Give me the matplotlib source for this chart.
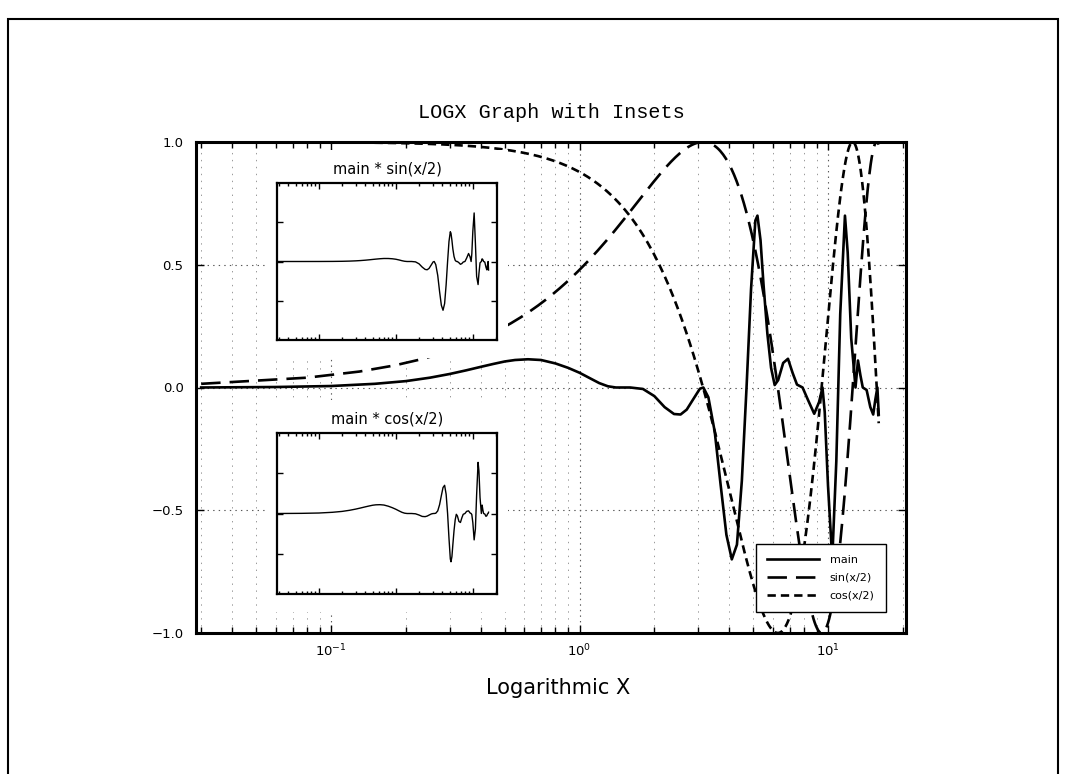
import numpy as np
import matplotlib
matplotlib.use("Agg")
import matplotlib.pyplot as plt
from matplotlib.patches import Rectangle
from matplotlib.ticker import LogLocator, MultipleLocator, NullFormatter

# --- data -------------------------------------------------------------------
main_x = [0.03, 0.06, 0.10, 0.15, 0.20, 0.25, 0.30, 0.35, 0.40, 0.45, 0.50,
          0.55, 0.62, 0.70, 0.80, 0.90, 1.00, 1.10, 1.20, 1.30, 1.40, 1.60,
          1.80, 2.00, 2.20, 2.40, 2.55, 2.70, 2.90, 3.05, 3.15, 3.30, 3.50,
          3.70, 3.90, 4.10, 4.30, 4.50, 4.70, 4.90, 5.10, 5.20, 5.35, 5.50,
          5.70, 5.90, 6.10, 6.30, 6.60, 6.90, 7.20, 7.50, 7.90, 8.30, 8.80,
          9.20, 9.50, 9.70, 10.0, 10.4, 10.8, 11.2, 11.7, 12.0, 12.4, 12.9,
          13.2, 13.5, 13.8, 14.3, 14.8, 15.2, 15.5, 15.8, 16.0]
main_y = [0.000, 0.002, 0.006, 0.015, 0.026, 0.040, 0.055, 0.070, 0.084,
          0.096, 0.106, 0.112, 0.115, 0.112, 0.098, 0.080, 0.060, 0.038,
          0.018, 0.005, 0.000, 0.000, -0.006, -0.035, -0.080, -0.108, -0.110,
          -0.090, -0.040, -0.005, 0.000, -0.040, -0.180, -0.400, -0.600,
          -0.700, -0.640, -0.380, 0.000, 0.400, 0.680, 0.700, 0.600, 0.420,
          0.220, 0.080, 0.010, 0.030, 0.100, 0.117, 0.060, 0.012, 0.000,
          -0.050, -0.107, -0.060, 0.000, -0.100, -0.400, -0.700, -0.300,
          0.300, 0.700, 0.550, 0.200, 0.000, 0.110, 0.050, 0.000, -0.010,
          -0.080, -0.110, -0.050, 0.000, -0.110]

x_min, x_max = 0.0286, 20.6
series_labels = ["main", "sin(x/2)", "cos(x/2)"]
inset_titles = ["main * sin(x/2)", "main * cos(x/2)"]

# sampling grid for the sin/cos reference curves
curve_x = np.linspace(0.03, 16.0, 320)
sin_y = np.sin(curve_x / 2.0)
cos_y = np.cos(curve_x / 2.0)

mx = np.array(main_x)
my = np.array(main_y)
prod_sin = my * np.sin(mx / 2.0)
prod_cos = my * np.cos(mx / 2.0)

# --- figure -----------------------------------------------------------------
W, H = 1066, 774
plt.rcParams["lines.scale_dashes"] = False
fig = plt.figure(figsize=(W / 100, H / 100), dpi=100)


def px_rect(l, t, r, b):
    return [l / W, 1 - b / H, (r - l) / W, (b - t) / H]


def style_log_axes(a, spine_lw, major_len, minor_len, labels=True):
    a.set_xscale("log")
    a.set_xlim(x_min, x_max)
    a.set_ylim(-1, 1)
    a.xaxis.set_major_locator(LogLocator(base=10))
    a.xaxis.set_minor_locator(LogLocator(base=10, subs=range(2, 10)))
    a.xaxis.set_minor_formatter(NullFormatter())
    a.tick_params(which="both", direction="in", top=True, right=True,
                  colors="k", width=1.0)
    a.tick_params(which="major", length=major_len)
    a.tick_params(which="minor", length=minor_len)
    for s in a.spines.values():
        s.set_linewidth(spine_lw)
    if not labels:
        a.set_xticklabels([])
        a.set_yticklabels([])


ax = fig.add_axes(px_rect(196, 142, 906, 633))
style_log_axes(ax, 2.2, 6, 4)
ax.yaxis.set_major_locator(MultipleLocator(0.5))
ax.tick_params(which="major", labelsize=9.5)
ax.tick_params(axis="y", which="major", pad=9)
ax.tick_params(axis="x", which="major", pad=7)
ax.grid(True, which="major", axis="both", ls=(0, (1, 3)), color="0.35", lw=0.8)
ax.grid(True, which="minor", axis="x", ls=(0, (1, 4)), color="0.6", lw=0.7)
ax.set_axisbelow(True)

ax.plot(main_x, main_y, color="k", lw=1.9, label=series_labels[0],
        solid_joinstyle="round")
ax.plot(curve_x, sin_y, color="k", lw=1.9, dashes=(14, 6.5),
        label=series_labels[1])
ax.plot(curve_x, cos_y, color="k", lw=1.9, dashes=(6, 3.6),
        label=series_labels[2])

leg = ax.legend(loc="lower right", bbox_to_anchor=(885.7 / W, 1 - 611.7 / H),
                bbox_transform=fig.transFigure, borderaxespad=0, fontsize=8,
                handlelength=4.6, frameon=True, fancybox=False, edgecolor="k",
                framealpha=1, labelspacing=0.7, borderpad=1.0,
                handletextpad=1.0)
leg.get_frame().set_linewidth(1.0)

# insets, each on a cleared white panel
insets = [((277, 183, 497, 340), (268, 150, 508, 358), prod_sin,
           inset_titles[0]),
          ((277, 433, 497, 594), (268, 400, 508, 612), prod_cos,
           inset_titles[1])]
for rect, clear, yv, title in insets:
    l, t, r, b = clear
    fig.add_artist(Rectangle((l / W, 1 - b / H), (r - l) / W, (b - t) / H,
                             transform=fig.transFigure, fc="white", ec="none",
                             zorder=1))
    ins = fig.add_axes(px_rect(*rect))
    ins.set_zorder(2)
    style_log_axes(ins, 1.6, 4, 2.5, labels=False)
    ins.set_yticks([-0.5, 0, 0.5])
    ins.set_facecolor("white")
    ins.plot(mx, yv, color="k", lw=1.0)
    ins.set_title(title, fontsize=10.5, pad=7)

fig.text(551 / W, 1 - 113 / H, "LOGX Graph with Insets",
         family="Liberation Mono", fontsize=14.5, ha="center", va="center")
fig.text(558 / W, 1 - 688 / H, "Logarithmic X", fontsize=15,
         ha="center", va="center")

fig.add_artist(Rectangle((8 / W, -0.05), (1058 - 8) / W, 1.05 - 19 / H,
                         transform=fig.transFigure, fill=False, lw=1.5,
                         ec="k"))

fig.savefig("out.png", dpi=100)
